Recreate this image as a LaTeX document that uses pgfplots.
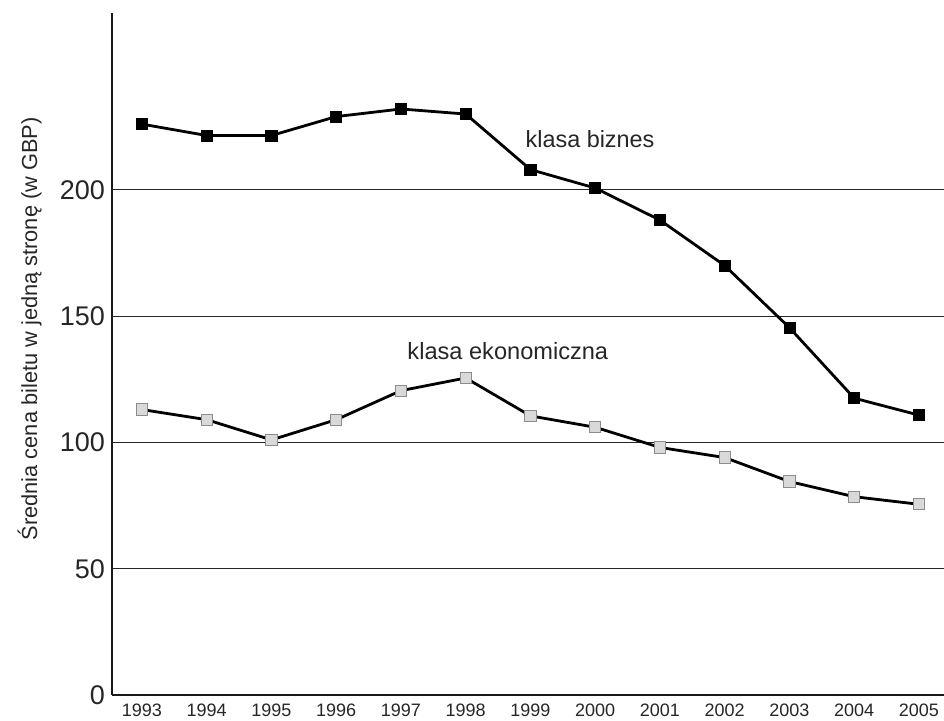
\documentclass[border=0pt]{standalone}
\usepackage{fontspec}
\setmainfont{Liberation Sans}
\usepackage{pgfplots}
\pgfplotsset{compat=1.18}
\begin{document}
\begin{tikzpicture}
\useasboundingbox (-56pt,-12.5pt) rectangle (416pt,347.5pt);
\begin{axis}[
  anchor=south west, at={(0,0)},
  scale only axis=true,
  width=416pt, height=341pt,
  xmin=1992.537, xmax=2005.386,
  ymin=0, ymax=270,
  axis x line=bottom, axis y line=left,
  axis line style={-, line width=1.3pt, black!90},
  xtick={1993,1994,...,2005},
  ytick={0,50,100,150,200},
  major tick length=0pt,
  x tick label style={font=\fontsize{9}{10}\selectfont, text=black!85, /pgf/number format/1000 sep={}},
  y tick label style={font=\fontsize{13.5}{15}\selectfont, text=black!85},
  /pgf/number format/assume math mode=true,
  xticklabel style={yshift=-1pt},
  ymajorgrids=true,
  grid style={black!85, line width=0.6pt},
  ylabel={Średnia cena biletu w jedną stronę (w GBP)},
  ylabel style={font=\fontsize{10.9}{12}\selectfont, text=black!85, at={(axis description cs:-0.099,0.537)}, anchor=center},
  clip=false,
]
\addplot[black, line width=1.4pt, mark=square*, mark size=2.8pt, mark options={fill=black, draw=black, line width=0.4pt}] coordinates {
(1993,226) (1994,221.5) (1995,221.5) (1996,229) (1997,232) (1998,230)
(1999,208) (2000,200.7) (2001,188) (2002,170) (2003,145.4) (2004,117.5) (2005,110.8)
};
\addplot[black, line width=1.4pt, mark=square*, mark size=2.8pt, mark options={fill=black!15, draw=black!45, line width=0.5pt}] coordinates {
(1993,113) (1994,109) (1995,101) (1996,109) (1997,120.5) (1998,125.5)
(1999,110.5) (2000,106) (2001,98) (2002,94) (2003,84.5) (2004,78.5) (2005,75.5)
};
\node[font=\fontsize{11.7}{13}\selectfont, text=black!85] at (axis cs:1999.92,220) {klasa biznes};
\node[font=\fontsize{11.8}{13}\selectfont, text=black!85] at (axis cs:1998.65,136) {klasa ekonomiczna};
\end{axis}
\end{tikzpicture}
\end{document}
